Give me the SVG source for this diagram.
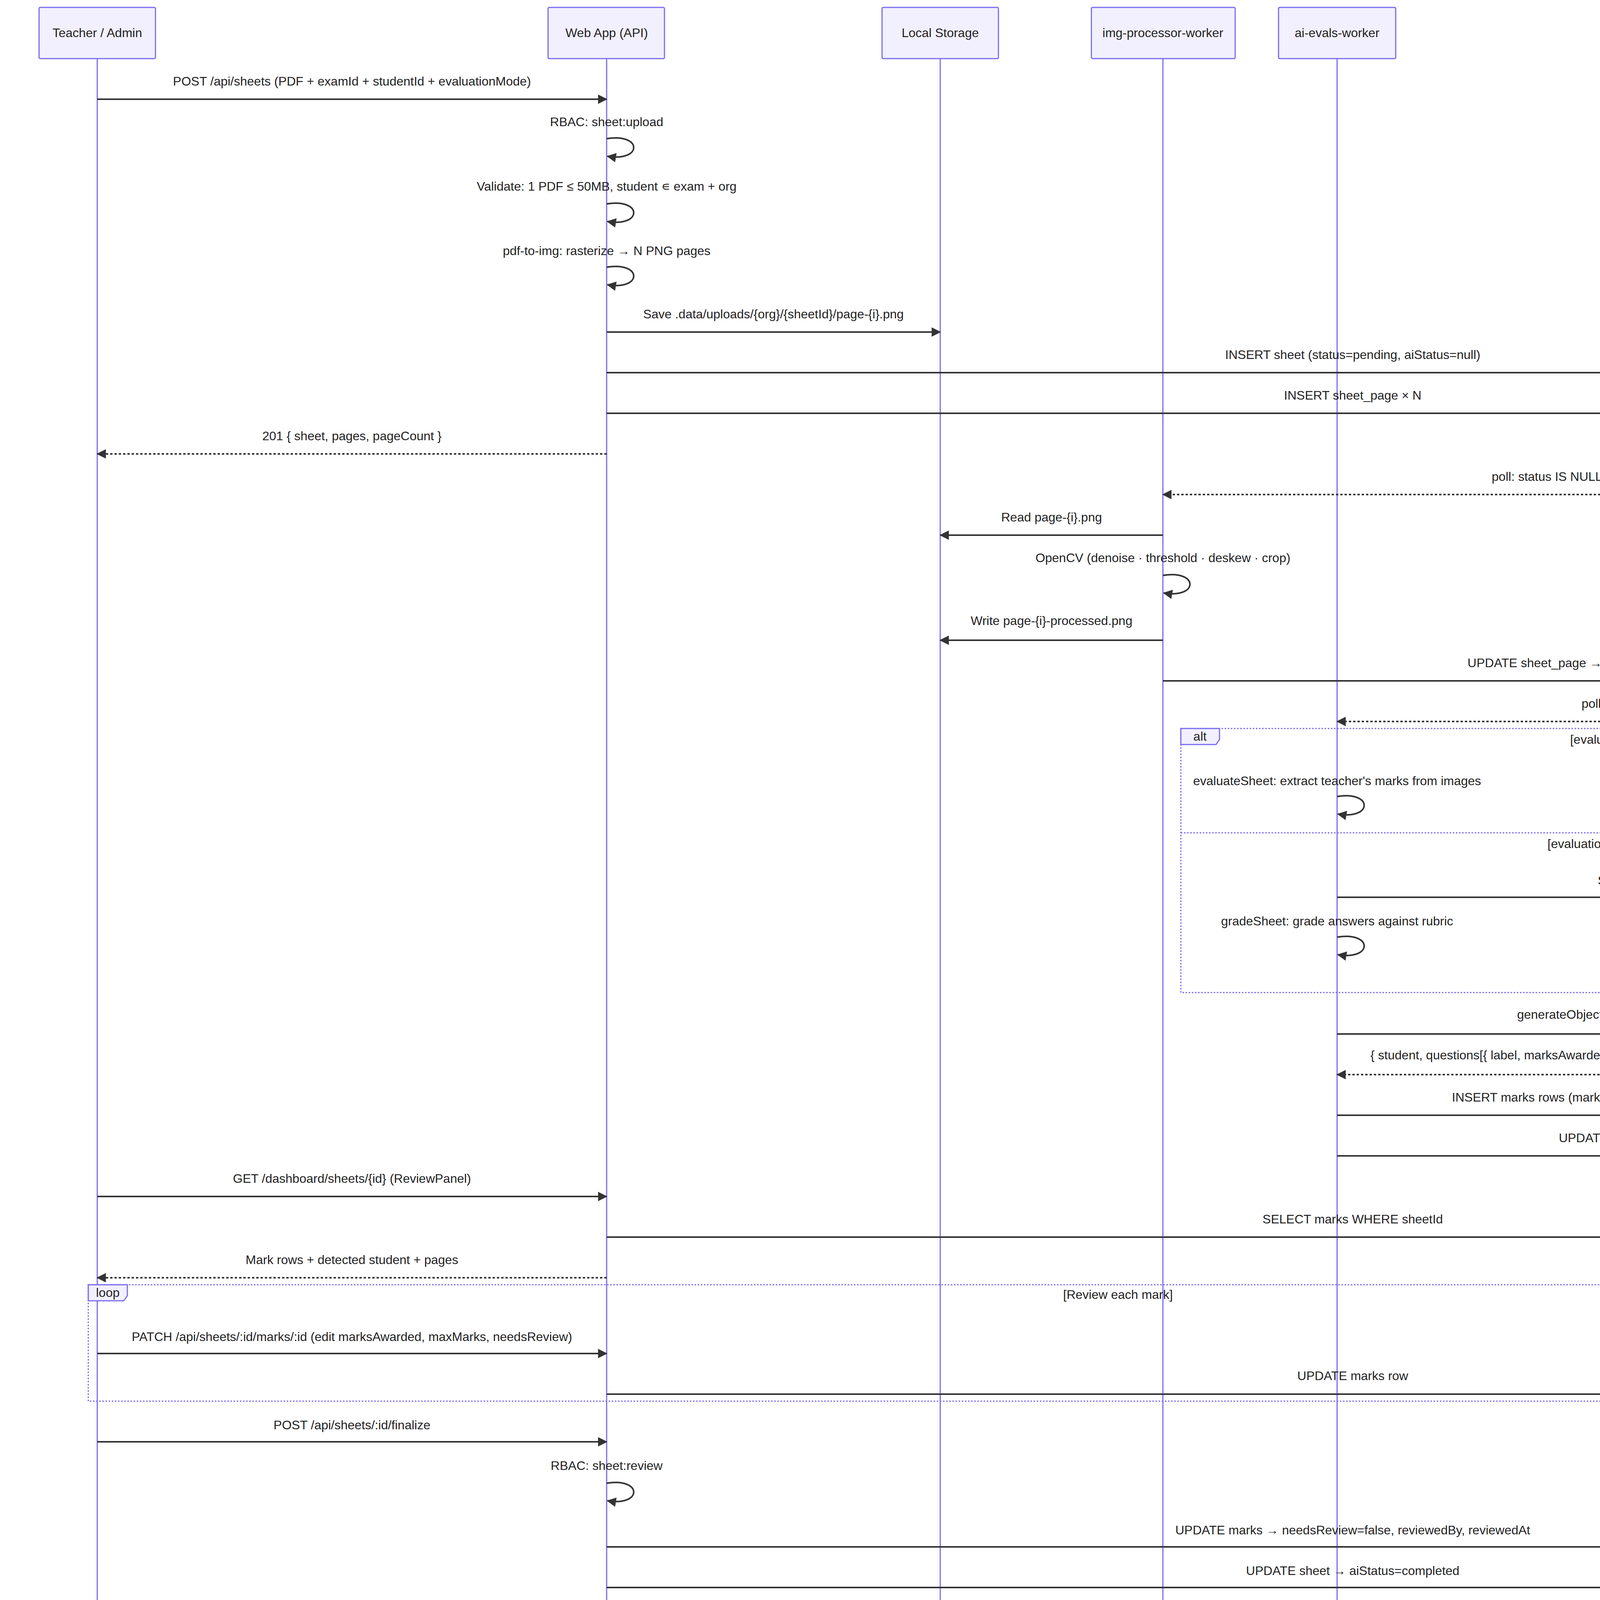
<svg xmlns="http://www.w3.org/2000/svg" width="5625" height="4362" viewBox="0 0 5625 4362">
<style>
.actor{fill:#f2f0ff;stroke:#7b6cf0;stroke-width:3}
.life{stroke:#7b6cf0;stroke-width:3}
text{font-family:"Liberation Sans",Arial,sans-serif;font-size:32px;fill:#222}
.at{text-anchor:middle;dominant-baseline:central}
.mt{text-anchor:middle}
.msg{stroke:#333;stroke-width:4;fill:none;marker-end:url(#ah)}
.dash{stroke-dasharray:6,5}
.frame{fill:none;stroke:#7b6cf0;stroke-width:3;stroke-dasharray:4,4}
.lbl{fill:#f2f0ff;stroke:#7b6cf0;stroke-width:3}
</style>
<defs>
<marker id="ah" markerUnits="userSpaceOnUse" markerWidth="24" markerHeight="24" refX="22" refY="12" orient="auto"><path d="M0,0 L24,12 L0,24 z" fill="#333"/></marker>
</defs>
<rect width="5625" height="4362" fill="#fff"/>
<g id="lifelines">
<line class="life" x1="249" y1="150" x2="249" y2="4211"/>
<line class="life" x1="1553" y1="150" x2="1553" y2="4211"/>
<line class="life" x1="2407" y1="150" x2="2407" y2="4211"/>
<line class="life" x1="2977" y1="150" x2="2977" y2="4211"/>
<line class="life" x1="3423" y1="150" x2="3423" y2="4211"/>
<line class="life" x1="4975" y1="150" x2="4975" y2="4211"/>
<line class="life" x1="5373" y1="150" x2="5373" y2="4211"/>
</g>
<g id="frames">
<rect class="frame" x="3023" y="1865" width="2374" height="676"/>
<line class="frame" x1="3023" y1="2132" x2="5397" y2="2132"/>
<polygon class="lbl" points="3023,1865 3122,1865 3122,1893 3113,1906 3023,1906"/>
<text class="at" x="3072" y="1885">alt</text>
<text class="at" x="4260" y="1893">[evaluationMode = extract_marks]</text>
<text class="at" x="4211" y="2160">[evaluationMode = grade_answers]</text>
<rect class="frame" x="226" y="3289" width="5171" height="298"/>
<polygon class="lbl" points="226,3289 326,3289 326,3317 317,3330 226,3330"/>
<text class="at" x="276" y="3309">loop</text>
<text class="at" x="2862" y="3314">[Review each mark]</text>
</g>
<g id="actors-top">
<g id="teacher"><rect class="actor" x="100" y="19" width="298" height="131" rx="3"/><text class="at" x="249" y="84">Teacher / Admin</text></g>
<g id="webapp"><rect class="actor" x="1403" y="19" width="298" height="131" rx="3"/><text class="at" x="1553" y="84">Web App (API)</text></g>
<g id="storage"><rect class="actor" x="2258" y="19" width="298" height="131" rx="3"/><text class="at" x="2407" y="84">Local Storage</text></g>
<g id="imgworker"><rect class="actor" x="2794" y="19" width="368" height="131" rx="3"/><text class="at" x="2977" y="84">img-processor-worker</text></g>
<g id="aiworker"><rect class="actor" x="3273" y="19" width="300" height="131" rx="3"/><text class="at" x="3423" y="84">ai-evals-worker</text></g>
<g id="openai"><rect class="actor" x="4826" y="19" width="298" height="131" rx="3"/><text class="at" x="4975" y="84">OpenAI (gpt-4o)</text></g>
<g id="postgres"><rect class="actor" x="5224" y="19" width="298" height="131" rx="3"/><text class="at" x="5373" y="84">PostgreSQL</text></g>
</g>
<g id="actors-bottom">
<g id="teacher-b"><rect class="actor" x="100" y="4211" width="298" height="131" rx="3"/><text class="at" x="249" y="4276">Teacher / Admin</text></g>
<g id="webapp-b"><rect class="actor" x="1403" y="4211" width="298" height="131" rx="3"/><text class="at" x="1553" y="4276">Web App (API)</text></g>
<g id="storage-b"><rect class="actor" x="2258" y="4211" width="298" height="131" rx="3"/><text class="at" x="2407" y="4276">Local Storage</text></g>
<g id="imgworker-b"><rect class="actor" x="2794" y="4211" width="368" height="131" rx="3"/><text class="at" x="2977" y="4276">img-processor-worker</text></g>
<g id="aiworker-b"><rect class="actor" x="3273" y="4211" width="300" height="131" rx="3"/><text class="at" x="3423" y="4276">ai-evals-worker</text></g>
<g id="openai-b"><rect class="actor" x="4826" y="4211" width="298" height="131" rx="3"/><text class="at" x="4975" y="4276">OpenAI (gpt-4o)</text></g>
<g id="postgres-b"><rect class="actor" x="5224" y="4211" width="298" height="131" rx="3"/><text class="at" x="5373" y="4276">PostgreSQL</text></g>
</g>
<g id="connectors">
<line class="msg" x1="249" y1="254" x2="1553" y2="254"/>
<path class="msg" d="M1553,355 C1645,340 1645,415 1555,400"/>
<path class="msg" d="M1553,522 C1645,507 1645,582 1555,567"/>
<path class="msg" d="M1553,684 C1645,669 1645,744 1555,729"/>
<line class="msg" x1="1553" y1="850" x2="2407" y2="850"/>
<line class="msg" x1="1553" y1="954" x2="5373" y2="954"/>
<line class="msg" x1="1553" y1="1058" x2="5373" y2="1058"/>
<line class="msg dash" x1="1553" y1="1162" x2="249" y2="1162"/>
<line class="msg dash" x1="5373" y1="1266" x2="2977" y2="1266"/>
<line class="msg" x1="2977" y1="1370" x2="2407" y2="1370"/>
<path class="msg" d="M2977,1473 C3069,1458 3069,1533 2979,1518"/>
<line class="msg" x1="2977" y1="1639" x2="2407" y2="1639"/>
<line class="msg" x1="2977" y1="1743" x2="5373" y2="1743"/>
<line class="msg dash" x1="5373" y1="1847" x2="3423" y2="1847"/>
<path class="msg" d="M3423,2039 C3515,2024 3515,2099 3425,2084"/>
<line class="msg" x1="3423" y1="2297" x2="5373" y2="2297"/>
<path class="msg" d="M3423,2399 C3515,2384 3515,2459 3425,2444"/>
<line class="msg" x1="3423" y1="2647" x2="4975" y2="2647"/>
<line class="msg dash" x1="4975" y1="2751" x2="3423" y2="2751"/>
<line class="msg" x1="3423" y1="2855" x2="5373" y2="2855"/>
<line class="msg" x1="3423" y1="2959" x2="5373" y2="2959"/>
<line class="msg" x1="249" y1="3063" x2="1553" y2="3063"/>
<line class="msg" x1="1553" y1="3167" x2="5373" y2="3167"/>
<line class="msg dash" x1="1553" y1="3271" x2="249" y2="3271"/>
<line class="msg" x1="249" y1="3465" x2="1553" y2="3465"/>
<line class="msg" x1="1553" y1="3569" x2="5373" y2="3569"/>
<line class="msg" x1="249" y1="3691" x2="1553" y2="3691"/>
<path class="msg" d="M1553,3797 C1645,3782 1645,3857 1555,3842"/>
<line class="msg" x1="1553" y1="3960" x2="5373" y2="3960"/>
<line class="msg" x1="1553" y1="4064" x2="5373" y2="4064"/>
<line class="msg dash" x1="1553" y1="4168" x2="249" y2="4168"/>
</g>
<g id="labels">
<text class="mt" x="901" y="219">POST /api/sheets (PDF + examId + studentId + evaluationMode)</text>
<text class="mt" x="1553" y="323">RBAC: sheet:upload</text>
<text class="mt" x="1553" y="488">Validate: 1 PDF ≤ 50MB, student ∊ exam + org</text>
<text class="mt" x="1553" y="653">pdf-to-img: rasterize → N PNG pages</text>
<text class="mt" x="1980" y="815">Save .data/uploads/{org}/{sheetId}/page-{i}.png</text>
<text class="mt" x="3463" y="919">INSERT sheet (status=pending, aiStatus=null)</text>
<text class="mt" x="3463" y="1023">INSERT sheet_page × N</text>
<text class="mt" x="901" y="1127">201 { sheet, pages, pageCount }</text>
<text class="mt" x="4175" y="1231">poll: status IS NULL + processed_path NOT NULL</text>
<text class="mt" x="2692" y="1335">Read page-{i}.png</text>
<text class="mt" x="2977" y="1439">OpenCV (denoise · threshold · deskew · crop)</text>
<text class="mt" x="2692" y="1600">Write page-{i}-processed.png</text>
<text class="mt" x="4175" y="1708">UPDATE sheet_page → status=processed, processedPath</text>
<text class="mt" x="4398" y="1812">poll: aiStatus IS NULL + processed_path EXISTS</text>
<text class="mt" x="3423" y="2010">evaluateSheet: extract teacher's marks from images</text>
<text class="mt" x="4398" y="2265">SELECT exam_question (text + maxMarks)</text>
<text class="mt" x="3423" y="2369">gradeSheet: grade answers against rubric</text>
<text class="mt" x="4199" y="2608">generateObject (vision + evaluationSchema)</text>
<text class="mt" x="4199" y="2712">{ student, questions[{ label, marksAwarded, maxMarks, answerText, confidence, needsReview }] }</text>
<text class="mt" x="4398" y="2820">INSERT marks rows (marksAwarded, maxMarks, answerText, confidence, needsReview, model)</text>
<text class="mt" x="4398" y="2924">UPDATE sheet → aiStatus=review_ready, aiResult=jsonb</text>
<text class="mt" x="901" y="3028">GET /dashboard/sheets/{id} (ReviewPanel)</text>
<text class="mt" x="3463" y="3132">SELECT marks WHERE sheetId</text>
<text class="mt" x="901" y="3236">Mark rows + detected student + pages</text>
<text class="mt" x="901" y="3433">PATCH /api/sheets/:id/marks/:id (edit marksAwarded, maxMarks, needsReview)</text>
<text class="mt" x="3463" y="3533">UPDATE marks row</text>
<text class="mt" x="901" y="3659">POST /api/sheets/:id/finalize</text>
<text class="mt" x="1553" y="3763">RBAC: sheet:review</text>
<text class="mt" x="3463" y="3928">UPDATE marks → needsReview=false, reviewedBy, reviewedAt</text>
<text class="mt" x="3463" y="4032">UPDATE sheet → aiStatus=completed</text>
<text class="mt" x="901" y="4136">200 (finalized — now visible to students)</text>
</g>
</svg>
